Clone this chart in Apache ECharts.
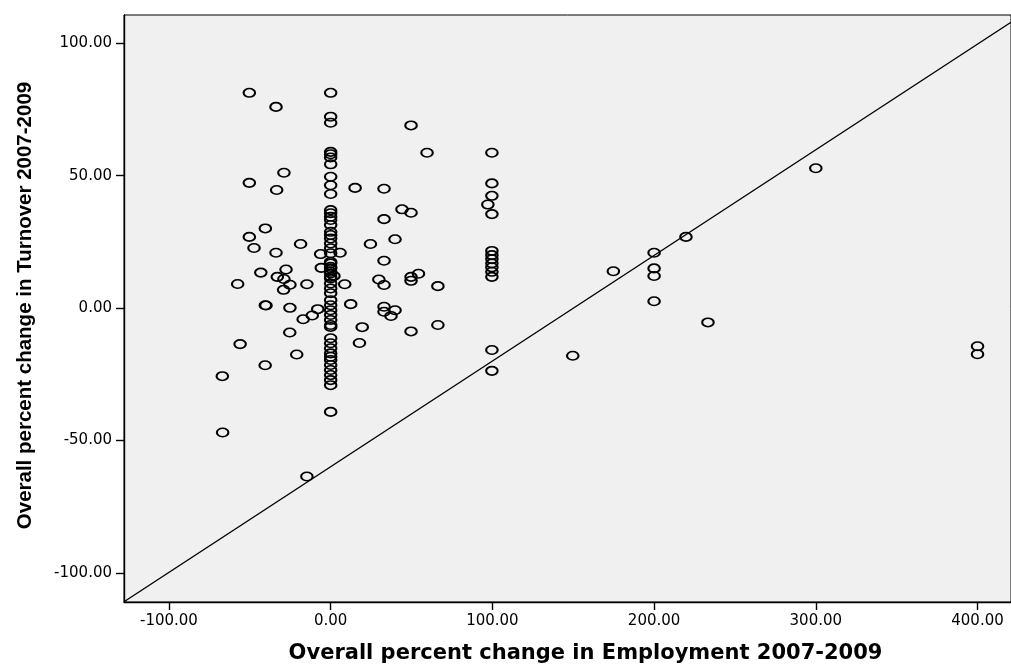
<!DOCTYPE html>
<html>
<head>
<meta charset="utf-8">
<script src="https://cdn.jsdelivr.net/npm/echarts@6/dist/echarts.min.js"></script>
<style>
html,body{margin:0;padding:0;background:#fff;}
#chart{width:1011px;height:664px;}
</style>
</head>
<body>
<div id="chart"></div>
<script>
// Overall percent change in Employment 2007-2009 (x) and Turnover 2007-2009 (y)
const employment = [
  -50.3,-33.8,-50.3,-28.9,-33.4,-40.4,-50.3,-47.4,-18.6,-33.8,-6.2,5.8,-5.8,24.6,-43.2,-27.6,-33.0,-28.9,-25.2,-29.1,
  -57.5,-14.7,2.0,8.7,29.8,-40.4,-40.0,-25.2,-8.0,-11.4,-17.0,12.4,19.5,-25.3,17.8,-56.0,-21.0,-40.5,-67.0,-66.8,-14.7,
  15.1,33.0,44.1,49.7,33.0,39.8,33.0,33.0,49.7,49.7,54.3,66.3,33.0,33.0,39.8,37.3,66.3,49.7,49.7,59.6,
  99.7,99.7,99.7,97.2,99.7,99.7,99.7,99.7,99.7,99.7,99.7,99.7,99.7,99.7,
  174.8,200,200,200,200,219.7,233.3,149.7,300,400,400,
  0,0,0,0,0,0,0,0,0,0,0,0,0,0,0,0,0,0,0,0,0,0,0,0,0,0,
  0,0,0,0,0,0,0,0,0,0,0,0,0,0,0,0,0,0,0,0,0,0,0,0,0
];
const turnover = [
  81.3,76.0,47.3,51.1,44.6,30.1,26.9,22.7,24.2,20.9,20.4,20.9,15.2,24.2,13.4,14.6,11.8,11.0,8.8,6.9,
  9.1,9.0,12.1,9.0,10.8,1.1,1.0,0.1,-0.4,-2.8,-4.2,1.5,-7.2,-9.2,-13.2,-13.6,-17.5,-21.6,-25.7,-47.0,-63.6,
  45.4,45.1,37.3,36.0,33.6,26.0,17.9,8.7,11.8,10.3,13.0,8.3,0.5,-1.4,-0.8,-3.0,-6.4,-8.8,69.0,58.7,
  58.7,47.1,42.4,39.1,35.5,21.6,20.0,18.5,16.9,15.4,13.7,11.8,-15.8,-23.7,
  13.9,20.9,15.0,12.1,2.6,26.9,-5.4,-18.0,52.8,-14.4,-17.4,
  81.3,72.3,70.0,59.0,58.1,56.9,54.3,49.6,46.4,43.1,37.0,35.8,34.5,33.3,31.4,28.8,27.6,26.3,24.4,22.6,20.7,17.5,15.6,13.7,11.8,16.9,
  15.0,13.1,11.2,9.3,7.4,5.6,3.0,1.1,-0.8,-2.6,-4.5,-6.4,-7.1,-11.4,-13.3,-15.2,-17.1,-18.4,-19.6,-21.5,-23.4,-25.3,-27.2,-29.1,-39.2
];
const xTicks = [-100, 0, 100, 200, 300, 400];
const yTicks = [-100, -50, 0, 50, 100];
const xRange = [-127.8, 420.7];
const yRange = [-111.0, 110.7];
// reference line (intercept, slope) as drawn in the original
const refLine = { intercept: -59.9, slope: 0.399 };

const points = employment.map((x, i) => [x, turnover[i]]);
const linePts = xRange.map(x => [x, refLine.intercept + refLine.slope * x]);

const chart = echarts.init(document.getElementById('chart'), null, { renderer: 'canvas' });
const tickFmt = v => Number(v).toFixed(2);
chart.setOption({
  animation: false,
  backgroundColor: '#ffffff',
  grid: {
    left: 124, right: 0, top: 15, bottom: 62,
    outerBoundsMode: 'none', containLabel: false,
    show: true, backgroundColor: '#f0f0f0', borderColor: '#000', borderWidth: 1
  },
  xAxis: {
    type: 'value', min: xRange[0], max: xRange[1],
    splitLine: { show: false },
    axisLine: { show: true, onZero: false, lineStyle: { color: '#000', width: 1.4 } },
    axisTick: { show: true, length: 8, lineStyle: { color: '#000', width: 1.4 }, customValues: xTicks },
    axisLabel: { customValues: xTicks, formatter: tickFmt, margin: 12, color: '#000',
      fontFamily: 'DejaVu Sans', fontSize: 15 },
    name: 'Overall percent change in Employment 2007-2009',
    nameLocation: 'middle', nameGap: 41,
    nameTextStyle: { fontFamily: 'DejaVu Sans', fontWeight: 'bold', fontSize: 21, color: '#000',
      padding: [0, 0, 0, 36] }
  },
  yAxis: {
    type: 'value', min: yRange[0], max: yRange[1],
    splitLine: { show: false },
    axisLine: { show: true, onZero: false, lineStyle: { color: '#000', width: 1.4 } },
    axisTick: { show: true, length: 8, lineStyle: { color: '#000', width: 1.4 }, customValues: yTicks },
    axisLabel: { customValues: yTicks, formatter: tickFmt, margin: 12, color: '#000',
      fontFamily: 'DejaVu Sans', fontSize: 15 },
    name: 'Overall percent change in Turnover 2007-2009',
    nameLocation: 'middle', nameGap: 88, nameRotate: 90,
    nameTextStyle: { fontFamily: 'Liberation Sans', fontWeight: 'bold', fontSize: 20.5, color: '#000',
      padding: [0, 0, 0, 6] }
  },
  series: [
    {
      type: 'line', data: linePts, symbol: 'none', silent: true,
      lineStyle: { color: '#000', width: 1.4 }, z: 1
    },
    {
      type: 'scatter', data: points, symbol: 'circle', symbolSize: [11.5, 8.5],
      itemStyle: { color: 'rgba(0,0,0,0)', borderColor: '#000', borderWidth: 1.8, opacity: 1 },
      z: 2
    }
  ]
});
</script>
</body>
</html>
